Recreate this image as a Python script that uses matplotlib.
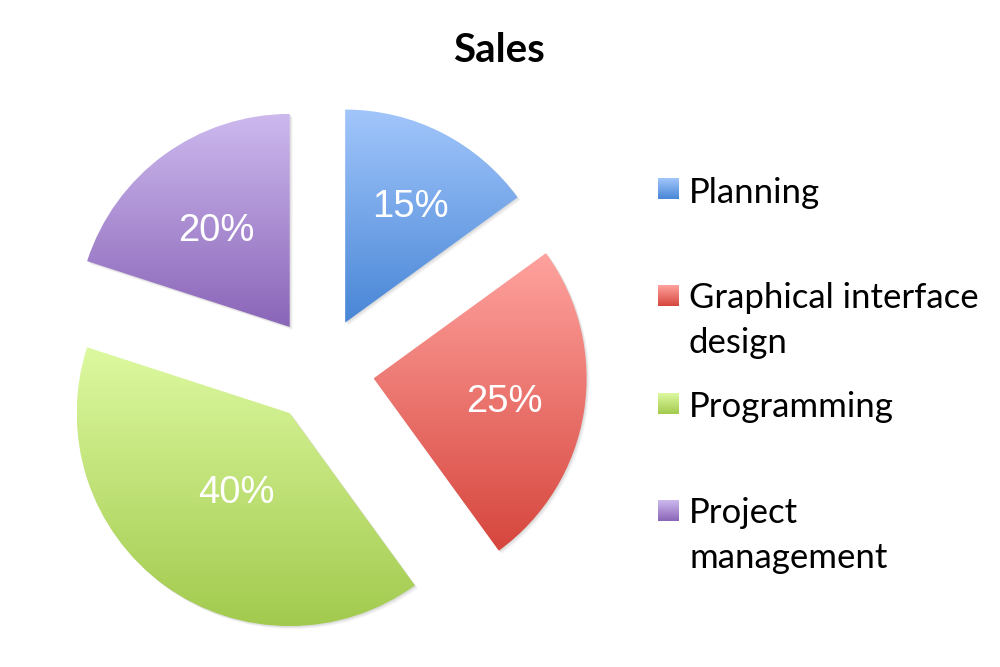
import numpy as np
import matplotlib
matplotlib.use("Agg")
import matplotlib.pyplot as plt
from matplotlib.colors import to_rgb
from matplotlib.patches import Wedge

categories = ["Planning", "Graphical interface\ndesign", "Programming", "Project\nmanagement"]
values = [15, 25, 40, 20]
top_colors = ["#A2C6FB", "#FFA29E", "#DDF9A0", "#CDB9EE"]
bottom_colors = ["#4886D6", "#D6463D", "#A2CA4E", "#8A65B8"]
title = "Sales"

W, H = 1000, 667
fig = plt.figure(figsize=(W / 100, H / 100), dpi=100)
ax = fig.add_axes([0, 0, 1, 1])

center = (321, H - 370)
radius = 213
explode = [0.25 * radius] * len(values)

wedges, texts, autotexts = ax.pie(
    values, explode=explode, center=center, radius=radius,
    startangle=90, counterclock=False,
    autopct=lambda p: f"{p:.0f}%", pctdistance=0.6,
    textprops=dict(color="white", fontsize=27.5, family="Liberation Sans"),
    wedgeprops=dict(linewidth=0),
    frame=True,
)
ax.set_xlim(0, W)
ax.set_ylim(0, H)
ax.set_aspect("equal")
ax.axis("off")

def gradient(c_top, c_bot, n=256):
    t = np.linspace(0, 1, n)[:, None]
    a = np.array(to_rgb(c_top))[None, :]
    b = np.array(to_rgb(c_bot))[None, :]
    return (a * (1 - t) + b * t)[:, None, :]

for i, w in enumerate(wedges):
    th = np.radians(np.linspace(w.theta1, w.theta2, 200))
    cx, cy = w.center
    xs = np.concatenate([[cx], cx + w.r * np.cos(th)])
    ys = np.concatenate([[cy], cy + w.r * np.sin(th)])
    x0, x1, y0, y1 = xs.min(), xs.max(), ys.min(), ys.max()
    for dx, dy, al in [(3, -3, 0.08), (2, -2, 0.10), (1, -1, 0.12)]:
        sh = Wedge((cx + dx, cy + dy), w.r, w.theta1, w.theta2, facecolor="#808080",
                   alpha=al, linewidth=0, zorder=0.5)
        ax.add_patch(sh)
    w.set_facecolor("none")
    w.set_zorder(1)
    im = ax.imshow(gradient(top_colors[i], bottom_colors[i]), extent=[x0, x1, y0, y1],
                   origin="upper", aspect="auto", interpolation="bilinear", zorder=1)
    im.set_clip_path(w)

# label positions (distance from wedge apex, fraction of radius) plus small offsets
label_dist = [0.63, 0.63, 0.44, 0.58]
label_off = [(4, -4), (-2, -3), (2, -4), (-1, -4)]
for i, (w, t) in enumerate(zip(wedges, autotexts)):
    ang = np.radians((w.theta1 + w.theta2) / 2)
    cx, cy = w.center
    t.set_position((cx + label_dist[i] * w.r * np.cos(ang) + label_off[i][0],
                    cy + label_dist[i] * w.r * np.sin(ang) + label_off[i][1]))
    t.set_zorder(3)
    t.set_ha("center")
    t.set_va("center")

# title
ax.text(499, H - 62, title, ha="center", va="baseline", fontsize=29,
        fontweight="bold", family="Lato", color="black")

# legend (manual, gradient swatches)
sq_x0, sq_size = 658, 21
sq_centers = [188.5, 296, 403.5, 510.5]
baselines = [203, 308, 417, 523]
line_gap = 45
for i, lab in enumerate(categories):
    yc = H - sq_centers[i]
    ax.imshow(gradient(top_colors[i], bottom_colors[i]),
              extent=[sq_x0, sq_x0 + sq_size, yc - sq_size / 2, yc + sq_size / 2],
              origin="upper", aspect="auto", interpolation="bilinear", zorder=2)
    for j, line in enumerate(lab.split("\n")):
        ax.text(689, H - (baselines[i] + j * line_gap), line, ha="left", va="baseline",
                fontsize=25, family="Lato", color="black")

ax.set_xlim(0, W)
ax.set_ylim(0, H)
fig.savefig("out.png", dpi=100, facecolor="white")
